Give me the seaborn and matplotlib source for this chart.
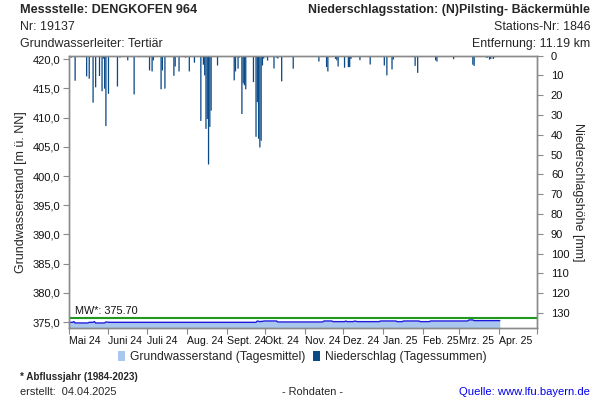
import matplotlib
matplotlib.use("Agg")
import matplotlib.pyplot as plt
import matplotlib.transforms as mtransforms
from matplotlib.patches import Patch
import pandas as pd
import seaborn as sns

# ---------------- data ----------------
start = pd.Timestamp("2024-05-01")
end = pd.Timestamp("2025-05-01")

# groundwater level (daily mean), day offset from 2024-05-01
gw_days = [0, 3, 4, 5, 15, 16, 19, 20, 21, 28, 29, 32, 146, 147, 149, 153, 162, 163,
           198, 199, 205, 206, 215, 216, 217, 222, 223, 225, 242, 243, 255, 256, 260,
           261, 273, 274, 281, 282, 311, 312, 315, 316, 336]
gw_levels = [374.97, 374.97, 375.09, 374.86, 374.86, 374.97, 374.97, 375.09, 374.86,
             374.86, 375.03, 374.97, 374.97, 375.20, 375.09, 375.20, 375.20, 375.03,
             375.03, 375.20, 375.20, 375.09, 375.09, 375.20, 375.09, 375.09, 375.20,
             375.09, 375.09, 375.20, 375.20, 375.09, 375.09, 375.20, 375.20, 375.09,
             375.09, 375.20, 375.20, 375.38, 375.38, 375.26, 375.26]

# precipitation (daily sums), day offset from 2024-05-01
precip_days = [2, 5, 14, 16, 19, 21, 24, 26, 27, 28, 29, 31, 38, 40, 46, 51, 55, 60,
               63, 64, 65, 66, 72, 73, 75, 77, 82, 83, 86, 87, 91, 94, 98, 103, 105,
               106, 107, 108, 109, 110, 111, 116, 129, 130, 132, 133, 135, 136, 137,
               138, 144, 146, 147, 148, 149, 150, 151, 152, 154, 155, 160, 162, 163,
               166, 170, 175, 195, 200, 201, 202, 204, 208, 209, 210, 211, 215, 218,
               219, 220, 221, 227, 232, 235, 246, 248, 250, 252, 253, 258, 267, 270,
               272, 286, 287, 300, 315, 316, 322, 326, 328, 329, 331, 332]
precip_mm = [1.0, 12.7, 10.5, 11.7, 23.8, 16.0, 10.3, 18.0, 1.5, 16.7, 35.6, 19.3,
             15.6, 1.0, 2.4, 19.6, 0.8, 0.8, 7.5, 0.5, 8.0, 2.4, 17.0, 7.5, 16.7, 0.3,
             10.2, 5.5, 8.0, 0.3, 1.0, 8.0, 3.6, 33.0, 4.6, 10.0, 37.0, 32.0, 55.0,
             36.0, 27.8, 5.0, 12.5, 8.0, 6.6, 1.0, 29.5, 14.0, 15.0, 17.0, 13.4, 41.0,
             23.5, 42.0, 46.4, 43.0, 5.0, 1.5, 0.8, 2.5, 6.5, 1.0, 1.5, 13.0, 0.5, 6.6,
             3.0, 0.5, 5.8, 8.0, 0.5, 1.7, 2.4, 5.5, 0.5, 6.1, 5.8, 5.8, 1.7, 0.3, 2.3,
             0.5, 4.5, 5.0, 10.0, 0.5, 7.0, 2.0, 0.3, 0.3, 5.2, 8.7, 2.4, 3.0, 1.8, 4.6,
             5.2, 0.3, 1.2, 2.0, 1.7, 1.7, 0.8]

month_labels = ["Mai 24", "Juni 24", "Juli 24", "Aug. 24", "Sept. 24", "Okt. 24",
                "Nov. 24", "Dez. 24", "Jan. 25", "Feb. 25", "Mrz. 25", "Apr. 25"]
left_ticks = [375, 380, 385, 390, 395, 400, 405, 410, 415, 420]
right_ticks = [0, 10, 20, 30, 40, 50, 60, 70, 80, 90, 100, 110, 120, 130]
mw_value = 375.70

gw = pd.DataFrame({"date": start + pd.to_timedelta(gw_days, unit="D"),
                   "level": gw_levels})
pr = pd.DataFrame({"date": start + pd.to_timedelta(precip_days, unit="D"),
                   "mm": precip_mm})

# ---------------- style ----------------
sns.set_theme(style="white")
plt.rcParams["font.family"] = ["Liberation Sans", "DejaVu Sans"]

GRAY = "#8a8a8a"
FILL = "#a9c6ee"
LINE = "#1a1adc"
BAR = "#0b4a88"
GREEN = "#1f9a1f"

fig = plt.figure(figsize=(6, 4), dpi=100)
ax = fig.add_axes([0.1145, 0.18, 0.7805, 0.681])

ybot, ytop = 374.0, 420.6
ax.fill_between(gw["date"], ybot, gw["level"], color=FILL, linewidth=0, zorder=1)
sns.lineplot(data=gw, x="date", y="level", ax=ax, color=LINE, linewidth=1.0, zorder=2)
ax.axhline(mw_value, color=GREEN, linewidth=1.5, zorder=3)
ax.text(pd.Timestamp("2024-05-06"), mw_value + 0.3, "MW*: 375.70", fontsize=7.8,
        ha="left", va="bottom", color="#111111")

ax.set_ylim(ybot, ytop)
ax.set_xlim(start, end)
ax.set_yticks(left_ticks)
ax.set_yticklabels([f"{v:.1f}".replace(".", ",") for v in left_ticks], fontsize=8)
ticks = pd.date_range(start, end, freq="MS")
ax.set_xticks(ticks)
ax.set_xticklabels(month_labels + [""], fontsize=7.6)
for lab in ax.get_xticklabels():
    lab.set_horizontalalignment("left")
    lab.set_transform(lab.get_transform() +
                      mtransforms.ScaledTranslation(2 / 100, 0, fig.dpi_scale_trans))
ax.tick_params(axis="both", which="both", direction="out", length=4, width=0.8,
               color=GRAY, labelcolor="#111111", pad=2)
ax.tick_params(axis="x", bottom=True, pad=2)
ax.tick_params(axis="y", left=True)
ax.set_xlabel("")
ax.set_ylabel("Grundwasserstand [m ü. NN]", fontsize=9, labelpad=4)

ax2 = ax.twinx()
bars = ax2.bar(pr["date"], pr["mm"], width=1.0, color=BAR, linewidth=0, zorder=2)
for b in bars:
    b.set_snap(False)
ax2.set_ylim(137.6, 0)
ax2.set_yticks(right_ticks)
ax2.set_yticklabels([str(v) for v in right_ticks], fontsize=8)
ax2.tick_params(axis="y", right=True, left=False, direction="out", length=4,
                width=0.8, color=GRAY, labelcolor="#111111", pad=6)
ax2.set_ylabel("Niederschlagshöhe [mm]", fontsize=9, rotation=270, labelpad=2,
               va="bottom")
ax2.set_xlim(start, end)
ax2.grid(False)
ax.grid(False)

for a in (ax, ax2):
    for s in a.spines.values():
        s.set_color(GRAY)
        s.set_linewidth(1.0)

# ---------------- texts ----------------
fig.text(20 / 600, 1 - 10 / 400, "Messstelle: DENGKOFEN 964", fontsize=9.1,
         fontweight="bold", ha="left", va="center")
fig.text(590 / 600, 1 - 10 / 400, "Niederschlagsstation: (N)Pilsting- Bäckermühle",
         fontsize=8.9, fontweight="bold", ha="right", va="center")
fig.text(20 / 600, 1 - 27 / 400, "Nr: 19137", fontsize=8.9, ha="left", va="center")
fig.text(590 / 600, 1 - 27 / 400, "Stations-Nr: 1846", fontsize=8.9, ha="right",
         va="center")
fig.text(20 / 600, 1 - 44 / 400, "Grundwasserleiter: Tertiär", fontsize=8.9,
         ha="left", va="center")
fig.text(590 / 600, 1 - 44 / 400, "Entfernung: 11.19 km", fontsize=8.9,
         ha="right", va="center")

handles = [Patch(facecolor=FILL, edgecolor="none", label="Grundwasserstand (Tagesmittel)"),
           Patch(facecolor=BAR, edgecolor="none", label="Niederschlag (Tagessummen)")]
fig.legend(handles=handles, loc="center", bbox_to_anchor=(302 / 600, 1 - 357 / 400),
           ncol=2, frameon=False, fontsize=8.7, handlelength=0.6, handleheight=0.9,
           handletextpad=0.4, columnspacing=0.6)

fig.text(20 / 600, 1 - 377 / 400, "* Abflussjahr (1984-2023)", fontsize=7.1,
         fontweight="bold", ha="left", va="center")
fig.text(20 / 600, 1 - 392 / 400, "erstellt:  04.04.2025", fontsize=7.9,
         ha="left", va="center")
fig.text(312 / 600, 1 - 392 / 400, "- Rohdaten -", fontsize=7.9, ha="center",
         va="center")
fig.text(590 / 600, 1 - 392 / 400, "Quelle: www.lfu.bayern.de", fontsize=8.1,
         color="#0000ee", ha="right", va="center")

fig.savefig("out.png", dpi=100)
